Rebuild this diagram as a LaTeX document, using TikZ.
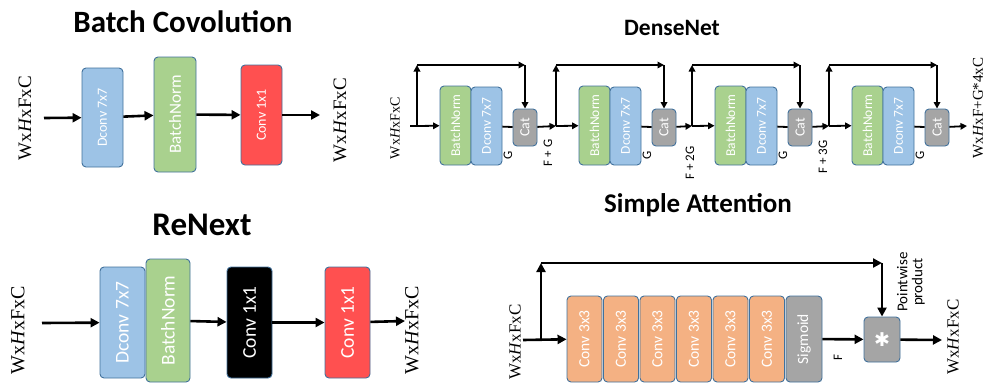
\documentclass[tikz,border=0pt]{standalone}
\usepackage{fontspec}
\setmainfont{Carlito}
\newfontfamily\serf{Liberation Serif}
\newfontfamily\symf{DejaVu Sans}
\usetikzlibrary{arrows.meta}
\definecolor{bluebox}{HTML}{9DC3E6}
\definecolor{greenbox}{HTML}{A9D18E}
\definecolor{redbox}{HTML}{FF5050}
\definecolor{graybox}{HTML}{A5A5A5}
\definecolor{orangebox}{HTML}{F4B183}
\definecolor{boxline}{HTML}{41719C}
\newcommand{\fs}[1]{\fontsize{#1}{#1}\selectfont}
\newcommand{\whfc}{Wx\textit{H}xFxC}

\begin{document}
\begin{tikzpicture}[x=1pt,y=-1pt,
  blk/.style 2 args={rotate=90, minimum width=#2, minimum height=#1, draw=boxline, line width=0.9pt,
    rounded corners=4pt, inner sep=0pt, text=white},
  dim/.style={rotate=90, inner sep=0pt, font=\serf\fs{#1}},
  ttl/.style={inner sep=0pt, font=\bfseries\fs{#1}},
  lbl/.style={rotate=90, inner sep=0pt, font=\fs{#1}},
  bigarr/.style={line width=2.6pt, -{Triangle[length=9pt,width=9pt]}},
  smallarr/.style={line width=1.8pt, -{Triangle[length=6.5pt,width=6.5pt]}}]
\useasboundingbox (0,0) rectangle (985,383);

\node[ttl=31] (bct) at (183,22) {Batch Covolution};
\node[blk={41pt}{99pt}, fill=bluebox, font=\fs{14}] (bcdc) at (102.5,117.5) {Dconv 7x7};
\node[blk={42pt}{115pt}, fill=greenbox, font=\fs{17}] (bcbn) at (175,114.5) {BatchNorm};
\node[blk={41pt}{100pt}, fill=redbox, font=\fs{14}] (bccv) at (261.5,115) {Conv 1x1};
\coordinate (bcin) at (44,118);
\coordinate (bcout) at (320,115);
\draw[bigarr] (bcin) -- (bcdc);
\draw[bigarr] (bcdc) -- (bcbn);
\draw[bigarr] (bcbn) -- (bccv);
\draw[bigarr] (bccv) -- (bcout);
\node[dim=19] (bcl) at (25,118) {\whfc};
\node[dim=19] (bcr) at (340,120) {\whfc};

\node[ttl=33] (rnt) at (202,225) {ReNext};
\node[blk={45pt}{111pt}, fill=bluebox, font=\fs{19.5}] (rndc) at (122.5,322.5) {Dconv 7x7};
\node[blk={44pt}{123pt}, fill=greenbox, font=\fs{19.5}] (rnbn) at (168,320.5) {BatchNorm};
\node[blk={45pt}{111pt}, fill=black, font=\fs{19.5}] (rncv1) at (249.5,322.5) {Conv 1x1};
\node[blk={45pt}{111pt}, fill=redbox, font=\fs{19.5}] (rncv2) at (347.5,322.5) {Conv 1x1};
\coordinate (rnin) at (42,323);
\coordinate (rnout) at (405,321);
\draw[bigarr] (rnin) -- (rndc);
\draw[bigarr] (rnbn) -- (rncv1);
\draw[bigarr] (rncv1) -- (rncv2);
\draw[bigarr] (rncv2) -- (rnout);
\node[dim=20] (rnl) at (18,330) {\whfc};
\node[dim=20] (rnr) at (412,330) {\whfc};

\node[ttl=23.5] (dnt) at (672,28) {DenseNet};
\foreach \i/\bx in {1/417,2/556,3/692,4/829} {
  \node[blk={31pt}{79pt}, fill=greenbox, font=\fs{13.5}] (dbn\i) at (\bx+38.5,125.5) {BatchNorm};
  \node[blk={31pt}{78pt}, fill=bluebox, font=\fs{13.5}] (ddc\i) at (\bx+69.5,126) {Dconv 7x7};
  \node[blk={24pt}{37pt}, fill=graybox, font=\fs{14}] (dcat\i) at (\bx+108,127.5) {Cat};
  \coordinate (dbr\i) at (\bx,126);
  \coordinate (dtl\i) at (\bx,65);
  \coordinate (dtr\i) at (\bx+108,65);
  \draw[line width=1.8pt] (ddc\i) -- (dcat\i);
  \draw[smallarr] (dbr\i) -- (dtl\i);
  \draw[smallarr] (dtl\i) -- (dtr\i);
  \draw[smallarr] (dtr\i) -- (dcat\i);
  \draw[smallarr] (dbr\i) -- (dbn\i);
  \node[lbl=13] (dg\i) at (\bx+91,155) {G};
}
\coordinate (dsin) at (410,126);
\coordinate (dsout) at (967,126);
\draw[line width=1.8pt] (dsin) -- (dbr1);
\draw[smallarr] (dcat1) -- (dbr2);
\draw[smallarr] (dcat2) -- (dbr3);
\draw[smallarr] (dcat3) -- (dbr4);
\draw[smallarr] (dcat4) -- (dsout);
\node[lbl=13] (dfg) at (548,153) {F + G};
\node[lbl=13] (dfg2) at (690,163) {F + 2G};
\node[lbl=13] (dfg3) at (823,157) {F + 3G};
\node[dim=14] (dnl) at (395,128) {\whfc};
\node[dim=15] (dnr) at (978,108) {Wx\textit{H}xF+G*4xC};

\node[ttl=27] (sat) at (698,205) {Simple Attention};
\foreach \i in {1,...,6} {
  \node[blk={35pt}{86pt}, fill=orangebox, font=\fs{15.5}] (sac\i) at (548+36.5*\i,339) {Conv 3x3};
}
\node[blk={36pt}{86pt}, fill=graybox, font=\fs{15.5}] (sasig) at (804,339) {Sigmoid};
\node[draw=boxline, line width=0.9pt, fill=graybox, rounded corners=4pt, minimum width=36pt, minimum height=45pt,
  inner sep=0pt, text=white, font=\symf\fs{19}] (sastar) at (882,339.5) {✱};
\coordinate (sain) at (523,340);
\coordinate (sabr) at (541,340);
\coordinate (satl) at (541,263);
\coordinate (satr) at (882,263);
\coordinate (saout) at (942,340);
\draw[bigarr] (sain) -- (sac1);
\draw[bigarr] (sabr) -- (satl);
\draw[bigarr] (satl) -- (satr);
\draw[bigarr] (satr) -- (sastar);
\draw[bigarr] (sasig) -- (sastar);
\draw[bigarr] (sastar) -- (saout);
\node[lbl=13] (saf) at (838,358) {F};
\node[lbl=15, align=center] (sapp) at (911,282) {Pointwise\\product};
\node[dim=17] (sal) at (515,342) {\whfc};
\node[dim=17] (sar) at (953,337) {\whfc};
\end{tikzpicture}
\end{document}
